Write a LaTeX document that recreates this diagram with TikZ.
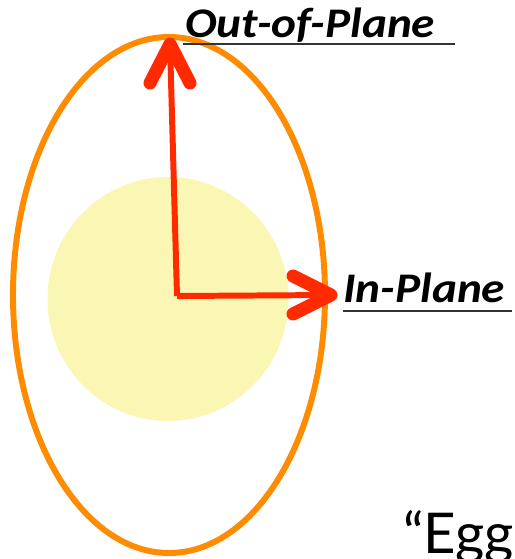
\documentclass[tikz,border=0pt]{standalone}
\usepackage{fontspec}
\newfontfamily\lblfont{Carlito}
\newfontfamily\eggfont{Lato}
\definecolor{eggorange}{RGB}{255,140,0}
\definecolor{yolkyellow}{RGB}{250,246,180}
\definecolor{axisred}{RGB}{255,42,0}
\tikzset{
  egg/.style={draw=eggorange,line width=3.4pt},
  yolk/.style={fill=yolkyellow},
  shaft/.style={draw=axisred,line width=3.4pt},
  head/.style={draw=axisred,line width=7.4pt,line cap=round,line join=round},
  axislabel/.style={font=\lblfont\bfseries\itshape\fontsize{24}{26}\selectfont,inner sep=0pt,anchor=base west},
  rule/.style={draw=black!80,line width=0.8pt}
}
\begin{document}
\begin{tikzpicture}[x=0.2mm,y=-0.2mm]
\clip (0,0) rectangle (514,559);
% yolk and egg outline
\fill[yolk] (168,299) ellipse [x radius=24.1mm, y radius=24.4mm];
\draw[egg] (169,295) ellipse [x radius=31.2mm, y radius=51.6mm];
% axes
\coordinate (o) at (177,296);
\coordinate (up) at (170,44);
\coordinate (right) at (331,295);
\draw[shaft] (o) -- (up);
\draw[shaft] (o) -- (right);
\draw[head] (150,83) -- (up) -- (190,83);
\draw[head] (293,276) -- (right) -- (293,314);
% labels
\node[axislabel] (oop) at (185,37) {\scalebox{1.12}[1]{Out-of-Plane}};
\draw[rule] (183,44) -- (455,44);
\node[axislabel] (ip) at (343,302) {\scalebox{1.12}[1]{In-Plane}};
\draw[rule] (343,311) -- (512,311);
\node[font=\eggfont\fontsize{32}{36}\selectfont,inner sep=0pt,anchor=base west] (egg) at (403,553) {“Egg};
\end{tikzpicture}
\end{document}
